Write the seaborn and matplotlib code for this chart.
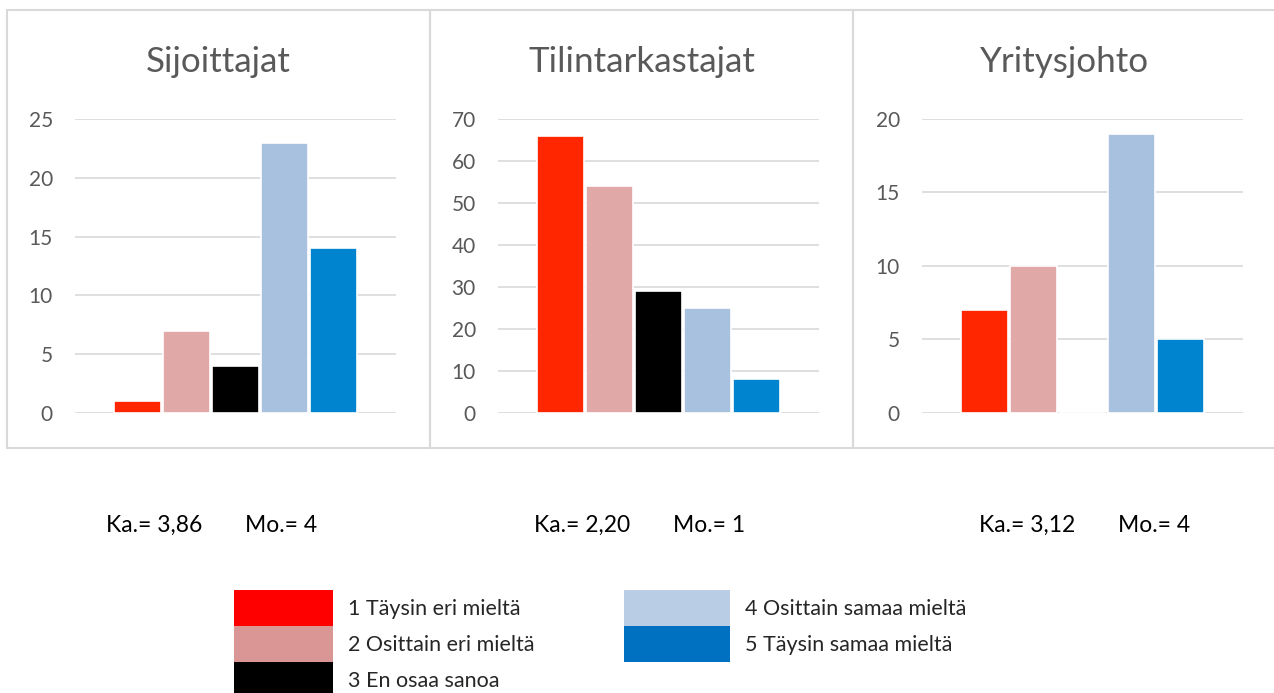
import matplotlib
matplotlib.use("Agg")
import matplotlib.pyplot as plt
from matplotlib.patches import Rectangle, Patch
import seaborn as sns
import pandas as pd

categories = ["1 Täysin eri mieltä", "2 Osittain eri mieltä", "3 En osaa sanoa",
              "4 Osittain samaa mieltä", "5 Täysin samaa mieltä"]
groups = ["Sijoittajat", "Tilintarkastajat", "Yritysjohto"]
sijoittajat = [1, 7, 4, 23, 14]
tilintarkastajat = [66, 54, 29, 25, 8]
yritysjohto = [7, 10, 0, 19, 5]
y_max = [25, 70, 20]
y_step = [5, 10, 5]
ka_texts = ["Ka.= 3,86", "Ka.= 2,20", "Ka.= 3,12"]
mo_texts = ["Mo.= 4", "Mo.= 1", "Mo.= 4"]

bar_colors = ["#FF2600", "#E0A8A6", "#000000", "#A7C1DF", "#0084CF"]
legend_colors = ["#FF0000", "#D99694", "#000000", "#B9CDE5", "#0070C0"]

sns.set_style("white")
plt.rcParams["font.family"] = ["Lato", "DejaVu Sans"]

W, H = 1274, 693
fig = plt.figure(figsize=(W / 100, H / 100), dpi=100)

def fx(px):
    return px / W

def fy(py):
    return 1 - py / H

# panel frames
panels = [(7, 430), (430, 853), (853, 1290)]
for (l, r) in panels:
    fig.add_artist(Rectangle((fx(l), fy(448)), fx(r - l), (438) / H,
                             transform=fig.transFigure, fill=False,
                             edgecolor="#D9D9D9", linewidth=1.5))

axes_left = [75, 498, 922]
title_cx = [218.5, 641.5, 1065]
ka_x = [106, 534, 979]
mo_x = [245, 673, 1118]
all_vals = [sijoittajat, tilintarkastajat, yritysjohto]

for i, vals in enumerate(all_vals):
    ax = fig.add_axes([fx(axes_left[i]), fy(413), fx(321), (413 - 119) / H])
    df = pd.DataFrame({"cat": categories, "val": vals})
    sns.barplot(data=df, x="cat", y="val", hue="cat", order=categories,
                hue_order=categories, palette=bar_colors, width=0.95,
                edgecolor="white", linewidth=1.2, legend=False, ax=ax,
                saturation=1)
    ax.set_xlim(-1.27, 5.27)
    ax.set_ylim(0, y_max[i])
    ax.set_yticks(range(0, y_max[i] + 1, y_step[i]))
    ax.set_xticks([])
    ax.set_xlabel("")
    ax.set_ylabel("")
    for s in ax.spines.values():
        s.set_visible(False)
    ax.set_axisbelow(True)
    ax.grid(axis="y", color="#D9D9D9", linewidth=1.2)
    ax.tick_params(axis="y", length=0, pad=16, labelsize=15, labelcolor="#595959")
    fig.text(fx(title_cx[i]), fy(62), groups[i], ha="center", va="center",
             fontsize=25.2, color="#595959")
    fig.text(fx(ka_x[i]), fy(525), ka_texts[i], ha="left", va="center",
             fontsize=16.5, color="#000000")
    fig.text(fx(mo_x[i]), fy(525), mo_texts[i], ha="left", va="center",
             fontsize=16.5, color="#000000")

fs = 15.5
fs_px = fs * 100 / 72
hh = 37 / fs_px * 1.276
common = dict(frameon=False, fontsize=fs, handleheight=hh, labelspacing=0.0,
              handletextpad=0.7, borderpad=0, borderaxespad=0, loc="upper left")
handles1 = [Patch(facecolor=legend_colors[k], edgecolor="none") for k in range(3)]
handles2 = [Patch(facecolor=legend_colors[k], edgecolor="none") for k in range(3, 5)]
fig.legend(handles1, categories[:3], bbox_to_anchor=(fx(234), fy(590)),
           handlelength=99 / fs_px, **common)
fig.legend(handles2, categories[3:], bbox_to_anchor=(fx(624), fy(590)),
           handlelength=106 / fs_px, **common)

fig.savefig("out.png", dpi=100)
